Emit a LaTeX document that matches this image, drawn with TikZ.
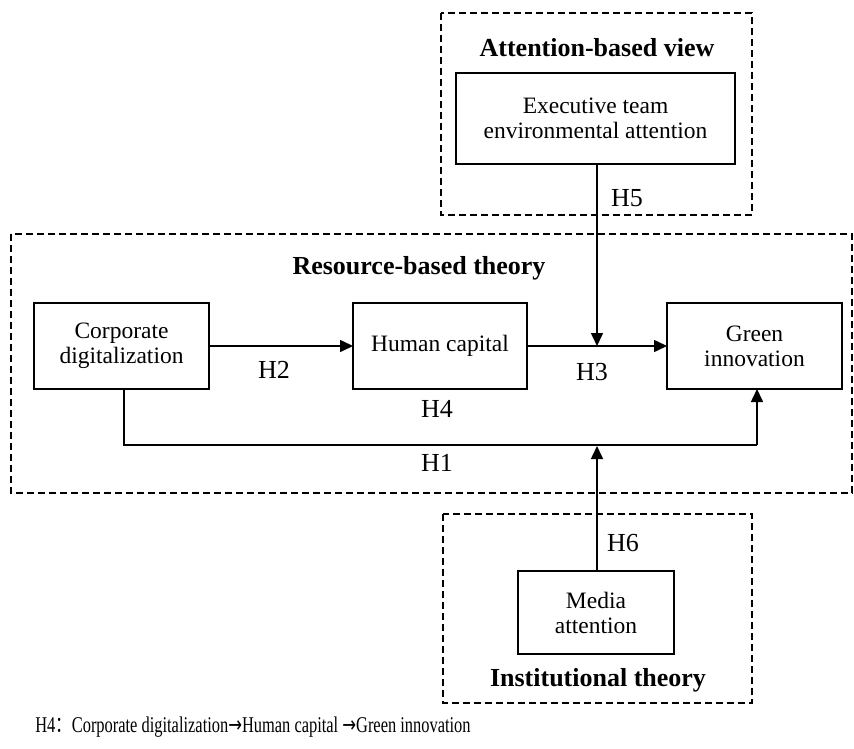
\documentclass[tikz,border=0pt]{standalone}
\usepackage{fontspec}
\setmainfont{Liberation Serif}
\newfontfamily\cjkfont{Noto Sans CJK SC}
\newfontfamily\arrowfont{DejaVu Sans}
\usetikzlibrary{arrows.meta}

\begin{document}
\begin{tikzpicture}[x=1pt,y=-1pt,
  every node/.style={inner sep=0pt,outer sep=0pt},
  box/.style={draw,line width=1.6pt,align=center,
    font=\fontsize{23.5}{25}\selectfont},
  region/.style={draw,line width=1.5pt,dash pattern=on 7pt off 4pt},
  title/.style={font=\fontsize{26}{28}\selectfont\bfseries},
  hyp/.style={font=\fontsize{26}{28}\selectfont},
  link/.style={line width=1.6pt},
  arr/.style={link,-{Triangle[length=13pt,width=12pt]}}
]
\useasboundingbox (0,0) rectangle (854,749);

% theory regions
\draw[region] (441,13) rectangle (752,215);
\draw[region] (11,234) rectangle (852,493);
\draw[region] (443,514) rectangle (752,703);

\node[title] (tabv) at (597,48) {Attention-based view};
\node[title] (trbt) at (419,268) {Resource-based theory};
\node[title] (tint) at (598,680) {Institutional theory};

% constructs
\node[box,minimum width=279,minimum height=91] (exec) at (595.5,118.5)
  {Executive team\\environmental attention};
\node[box,minimum width=175,minimum height=86] (corp) at (121.5,346)
  {Corporate\\digitalization};
\node[box,minimum width=174,minimum height=86] (human) at (440,346)
  {Human capital};
\node[box,minimum width=175,minimum height=86] (green) at (754.5,346)
  {Green\\innovation};
\node[box,minimum width=156,minimum height=83] (media) at (596,612.5)
  {Media\\attention};

% junction points on the paths
\coordinate (j3) at (597,346);
\coordinate (j1) at (597,446);
\coordinate (c1) at (124,445);
\coordinate (c2) at (757,445);

% paths
\draw[arr] (corp.east) -- (human.west);
\draw[arr] (human.east) -- (green.west);
\draw[arr] (exec.south -| j3) -- (j3);
\draw[link] (corp.south -| c1) -- (c1) -- (c2);
\draw[arr] (c2) -- (green.south -| c2);
\draw[arr] (media.north -| j1) -- (j1);

% hypothesis labels
\node[hyp] (h5) at (627,198) {H5};
\node[hyp] (h2) at (274,370) {H2};
\node[hyp] (h3) at (592,372) {H3};
\node[hyp] (h4) at (437,409) {H4};
\node[hyp] (h1) at (437,463) {H1};
\node[hyp] (h6) at (623,543) {H6};

% note
\node (note) at (253,727) {\scalebox{0.73}[1]{\fontsize{22.5}{24}\selectfont
  H4{\cjkfont ：}Corporate digitalization{\arrowfont →}Human capital
  {\arrowfont →}Green innovation}};
\end{tikzpicture}
\end{document}
